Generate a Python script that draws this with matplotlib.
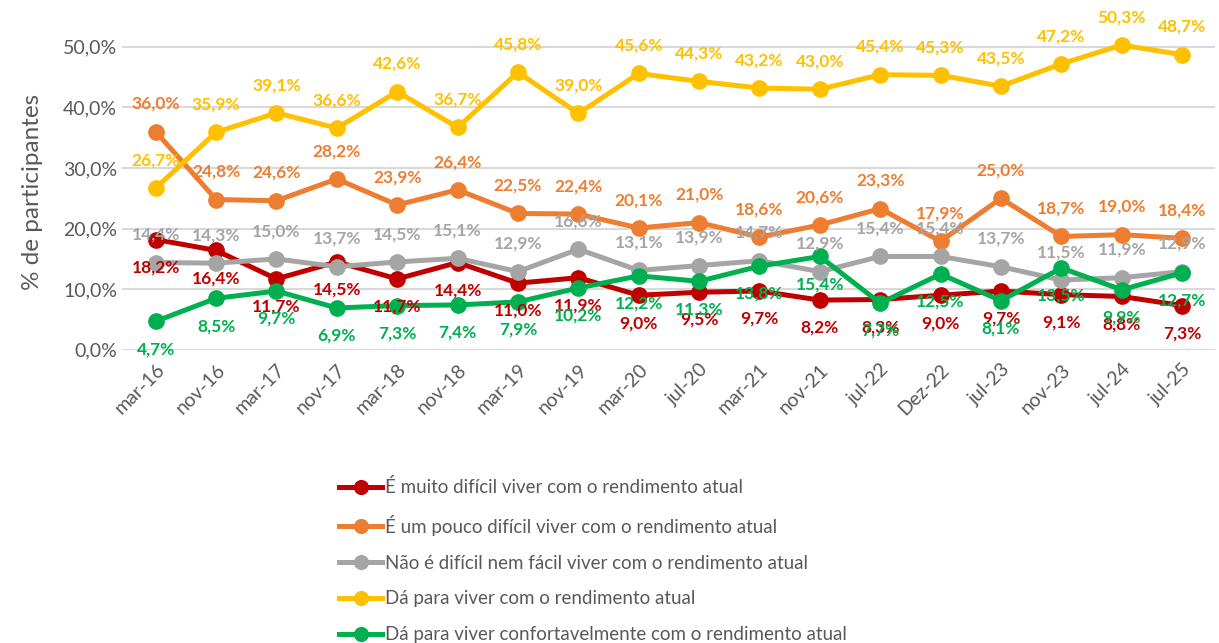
import matplotlib
matplotlib.use("Agg")
import matplotlib.pyplot as plt
from matplotlib.ticker import FuncFormatter

plt.rcParams['font.family'] = ['Lato', 'DejaVu Sans']

# data (%)
periods = ["mar-16", "nov-16", "mar-17", "nov-17", "mar-18", "nov-18", "mar-19", "nov-19",
           "mar-20", "jul-20", "mar-21", "nov-21", "jul-22", "Dez-22", "jul-23", "nov-23",
           "jul-24", "jul-25"]
muito_dificil = [18.2, 16.4, 11.7, 14.5, 11.7, 14.4, 11.0, 11.9, 9.0, 9.5, 9.7, 8.2, 8.3, 9.0, 9.7, 9.1, 8.8, 7.3]
pouco_dificil = [36.0, 24.8, 24.6, 28.2, 23.9, 26.4, 22.5, 22.4, 20.1, 21.0, 18.6, 20.6, 23.3, 17.9, 25.0, 18.7, 19.0, 18.4]
nem_facil = [14.4, 14.3, 15.0, 13.7, 14.5, 15.1, 12.9, 16.6, 13.1, 13.9, 14.7, 12.9, 15.4, 15.4, 13.7, 11.5, 11.9, 12.9]
da_para_viver = [26.7, 35.9, 39.1, 36.6, 42.6, 36.7, 45.8, 39.0, 45.6, 44.3, 43.2, 43.0, 45.4, 45.3, 43.5, 47.2, 50.3, 48.7]
confortavel = [4.7, 8.5, 9.7, 6.9, 7.3, 7.4, 7.9, 10.2, 12.2, 11.3, 13.8, 15.4, 7.7, 12.5, 8.1, 13.5, 9.9, 12.7]

series_names = ["É muito difícil viver com o rendimento atual",
                "É um pouco difícil viver com o rendimento atual",
                "Não é difícil nem fácil viver com o rendimento atual",
                "Dá para viver com o rendimento atual",
                "Dá para viver confortavelmente com o rendimento atual"]
colors = ["#C00000", "#ED7D31", "#A5A5A5", "#FFC000", "#00B050"]
# label above (+) or below (-) the point
label_side = [-1, 1, 1, 1, -1]

fig = plt.figure(figsize=(12.19, 6.43), dpi=100)
ax = fig.add_axes([0.1, 0.456, 0.897, 0.49])

x = list(range(len(periods)))
all_series = [muito_dificil, pouco_dificil, nem_facil, da_para_viver, confortavel]
for vals, name, col, side in zip(all_series, series_names, colors, label_side):
    ax.plot(x, vals, color=col, lw=3.6, marker="o", markersize=11, label=name,
            clip_on=False, zorder=3)
    for xi, v in zip(x, vals):
        ax.annotate(f"{v:.1f}%".replace(".", ","), (xi, v), xytext=(0, 20 * side),
                    textcoords="offset points", ha="center", va="center",
                    color=col, fontsize=12.5, fontweight="bold", zorder=4)

ax.set_xlim(-0.56, len(periods) - 0.45)
ax.set_ylim(0, 52)
ax.set_yticks([0, 10, 20, 30, 40, 50])
ax.yaxis.set_major_formatter(FuncFormatter(lambda v, p: f"{v:.1f}%".replace(".", ",")))
ax.set_xticks(x)
ax.set_xticklabels(periods, rotation=45, ha="right", rotation_mode="anchor")
ax.tick_params(axis="both", length=0, labelsize=14, labelcolor="#595959")
ax.tick_params(axis="x", pad=8)
ax.grid(axis="y", color="#D9D9D9", lw=1.5)
ax.set_axisbelow(True)
for s in ax.spines.values():
    s.set_visible(False)
ax.set_ylabel("% de participantes", fontsize=17.5, color="#595959", labelpad=14)

fig.legend(loc="upper left", bbox_to_anchor=(0.272, 0.268), frameon=False,
           fontsize=13.5, labelcolor="#595959", handlelength=2.3, handletextpad=0.15,
           labelspacing=1.0, borderaxespad=0, markerscale=0.9)

fig.savefig("out.png", dpi=100)
